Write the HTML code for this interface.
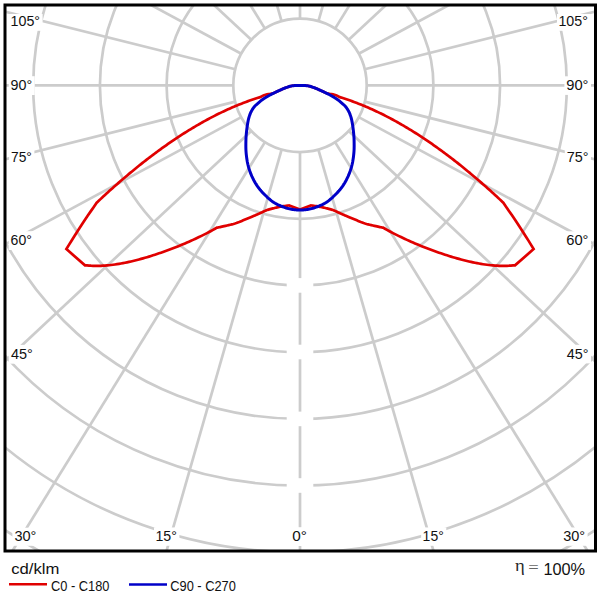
<!DOCTYPE html>
<html><head><meta charset="utf-8"><title>Polar LDC</title>
<style>html,body{margin:0;padding:0;background:#fff;width:600px;height:600px;overflow:hidden}svg{display:block}</style>
</head><body><svg width="600" height="600" viewBox="0 0 600 600"><defs><clipPath id="c"><rect x="5" y="5" width="590.5" height="546"/></clipPath></defs><g clip-path="url(#c)" fill="none" stroke="#cccccc" stroke-width="2.7"><circle cx="300" cy="85.4" r="66.7"/><circle cx="300" cy="85.4" r="133.4"/><circle cx="300" cy="85.4" r="200.1"/><circle cx="300" cy="85.4" r="266.8"/><circle cx="300" cy="85.4" r="333.5"/><circle cx="300" cy="85.4" r="400.2"/><circle cx="300" cy="85.4" r="466.9"/><circle cx="300" cy="85.4" r="533.6"/><line x1="300" y1="152.1" x2="300" y2="985.4"/><line x1="281.62" y1="149.52" x2="51.96" y2="950.54"/><line x1="318.38" y1="149.52" x2="548.04" y2="950.54"/><line x1="264.94" y1="142.15" x2="-173.01" y2="851.08"/><line x1="335.06" y1="142.15" x2="773.01" y2="851.08"/><line x1="251.27" y1="130.94" x2="-357.54" y2="699.92"/><line x1="348.73" y1="130.94" x2="957.54" y2="699.92"/><line x1="241.3" y1="117.07" x2="-492.05" y2="512.78"/><line x1="358.7" y1="117.07" x2="1092.05" y2="512.78"/><line x1="235.3" y1="101.6" x2="-573.04" y2="304.03"/><line x1="364.7" y1="101.6" x2="1173.04" y2="304.03"/><line x1="233.3" y1="85.4" x2="-600" y2="85.4"/><line x1="366.7" y1="85.4" x2="1200" y2="85.4"/><line x1="235.3" y1="69.2" x2="-573.04" y2="-133.23"/><line x1="364.7" y1="69.2" x2="1173.04" y2="-133.23"/><line x1="241.3" y1="53.73" x2="-492.05" y2="-341.98"/><line x1="358.7" y1="53.73" x2="1092.05" y2="-341.98"/><line x1="251.27" y1="39.86" x2="-357.54" y2="-529.12"/><line x1="348.73" y1="39.86" x2="957.54" y2="-529.12"/><line x1="264.94" y1="28.65" x2="-173.01" y2="-680.28"/><line x1="335.06" y1="28.65" x2="773.01" y2="-680.28"/><line x1="281.62" y1="21.28" x2="51.96" y2="-779.74"/><line x1="318.38" y1="21.28" x2="548.04" y2="-779.74"/><line x1="300" y1="18.7" x2="300" y2="-814.6"/></g><g fill="#fff"><rect x="286.7" y="278.1" width="26.6" height="14.6"/><rect x="286.7" y="344.7" width="26.6" height="14.6"/><rect x="286.7" y="411.6" width="26.6" height="14.6"/><rect x="286.7" y="478.2" width="26.6" height="14.6"/><rect x="9.1" y="14" width="33.5" height="16.8"/><rect x="557" y="14" width="33.5" height="16.8"/><rect x="8.7" y="76.2" width="26" height="18.8"/><rect x="564.4" y="76.3" width="26.6" height="18.6"/><rect x="9.1" y="147.9" width="25.3" height="18.8"/><rect x="564.8" y="147.8" width="26.2" height="18.95"/><rect x="8.7" y="231.2" width="25.7" height="18.8"/><rect x="564.4" y="231.3" width="26.6" height="18.6"/><rect x="8.7" y="344.9" width="26.7" height="18.8"/><rect x="564.4" y="344.8" width="26.6" height="18.6"/><rect x="12.4" y="527.7" width="26.5" height="18.1"/><rect x="154" y="527.45" width="25.4" height="18.35"/><rect x="290.4" y="527.2" width="19" height="18.8"/><rect x="421.15" y="527.45" width="25.15" height="18.35"/><rect x="561.15" y="527.45" width="26.45" height="18.35"/></g><path d="M300 85.6 L298.5 85.57 L297 85.55 L295.5 85.56 L294 85.64 L292.5 85.78 L291 86.05 L289.5 86.44 L288 86.93 L286.5 87.46 L285 88.03 L283.5 88.62 L282 89.25 L280.5 89.91 L279 90.61 L277.5 91.32 L276 92.03 L274.5 92.73 L273 93.25 L271.5 93.61 L270 93.89 L268.5 94.13 L267 94.38 L265.5 94.71 L264 95.17 L262.5 95.87 L261 96.88 L259.5 97.34 L258 97.8 L256.5 98.28 L255 98.77 L253.5 99.27 L252 99.78 L250.5 100.3 L249 100.83 L247.5 101.37 L246 101.92 L244.5 102.48 L243 103.05 L241.5 103.64 L240 104.23 L238.5 104.83 L237 105.44 L235.5 106.07 L234 106.7 L232.5 107.34 L231 108 L229.5 108.66 L228 109.33 L226.5 110.02 L225 110.71 L223.5 111.41 L222 112.12 L220.5 112.85 L219 113.58 L217.5 114.32 L216 115.07 L214.5 115.83 L213 116.6 L211.5 117.38 L210 118.17 L208.5 118.97 L207 119.78 L205.5 120.6 L204 121.42 L202.5 122.26 L201 123.11 L199.5 123.96 L198 124.82 L196.5 125.7 L195 126.58 L193.5 127.47 L192 128.37 L190.5 129.28 L189 130.2 L187.5 131.13 L186 132.06 L184.5 133.01 L183 133.96 L181.5 134.92 L180 135.89 L178.5 136.87 L177 137.86 L175.5 138.86 L174 139.87 L172.5 140.88 L171 141.9 L169.5 142.94 L168 143.98 L166.5 145.03 L165 146.08 L163.5 147.15 L162 148.22 L160.5 149.31 L159 150.4 L157.5 151.49 L156 152.6 L154.5 153.72 L153 154.84 L151.5 155.97 L150 157.11 L148.5 158.26 L147 159.42 L145.5 160.58 L144 161.75 L142.5 162.93 L141 164.12 L139.5 165.32 L138 166.52 L136.5 167.74 L135 168.96 L133.5 170.18 L132 171.42 L130.5 172.66 L129 173.91 L127.5 175.17 L126 176.44 L124.5 177.71 L123 178.99 L121.5 180.28 L120 181.58 L118.5 182.89 L117 184.2 L115.5 185.52 L114 186.84 L112.5 188.18 L111 189.52 L109.5 190.87 L108 192.23 L106.5 193.59 L105 194.96 L103.5 196.34 L102 197.73 L100.5 199.12 L99 200.52 L97.5 201.93 L96.7 202.69 L93.79 206.92 L90.87 211.14 L87.99 215.35 L85.14 219.57 L82.34 223.79 L79.58 228.01 L76.86 232.23 L74.17 236.45 L71.53 240.66 L68.93 244.88 L66.37 249.1 L85 265.3 L87 265.4 L89 265.58 L91 265.72 L93 265.81 L95 265.86 L97 265.88 L99 265.86 L101 265.8 L103 265.71 L105 265.58 L107 265.43 L109 265.24 L111 265.03 L113 264.78 L115 264.51 L117 264.21 L119 263.89 L121 263.54 L123 263.17 L125 262.78 L127 262.36 L129 261.93 L131 261.47 L133 261 L135 260.51 L137 260 L139 259.47 L141 258.92 L143 258.36 L145 257.78 L147 257.19 L149 256.59 L151 255.97 L153 255.33 L155 254.68 L157 254.02 L159 253.34 L161 252.66 L163 251.96 L165 251.24 L167 250.51 L169 249.78 L171 249.02 L173 248.26 L175 247.48 L177 246.69 L179 245.89 L181 245.07 L183 244.24 L185 243.4 L187 242.54 L189 241.67 L191 240.78 L193 239.88 L195 238.96 L197 238.03 L199 237.08 L201 236.11 L203 235.12 L205 234.12 L207 233.1 L209 232.05 L211 230.99 L213 229.9 L215 228.79 L217 227.66 L217.42 227.61 L217.94 227.5 L218.55 227.38 L219.25 227.23 L220.05 227.06 L220.94 226.87 L221.92 226.65 L223 226.4 L224.22 226.12 L225.61 225.82 L227.12 225.49 L228.71 225.13 L230.33 224.75 L231.95 224.35 L233.52 223.94 L235 223.5 L236.41 223.04 L237.8 222.53 L239.17 222.01 L240.52 221.46 L241.85 220.91 L243.15 220.36 L244.44 219.82 L245.7 219.3 L246.96 218.79 L248.22 218.26 L249.48 217.74 L250.71 217.23 L251.89 216.72 L253.01 216.25 L254.05 215.8 L255 215.4 L255.82 215.05 L256.52 214.75 L257.12 214.49 L257.68 214.24 L258.2 214.01 L258.75 213.77 L259.33 213.5 L260 213.2 L260.79 212.84 L261.67 212.44 L262.61 212 L263.56 211.56 L264.47 211.14 L265.3 210.76 L265.99 210.44 L266.5 210.2 L267 210.06 L267.66 209.87 L268.44 209.65 L269.31 209.4 L270.24 209.14 L271.19 208.88 L272.12 208.63 L273 208.4 L273.84 208.19 L274.67 207.98 L275.5 207.78 L276.34 207.58 L277.21 207.38 L278.1 207.18 L279.03 206.99 L280 206.8 L281.09 206.61 L282.32 206.4 L283.62 206.2 L284.94 206 L286.2 205.81 L287.34 205.65 L288.29 205.51 L289 205.4 L300 209.4 L311 205.4 L311.71 205.51 L312.66 205.65 L313.8 205.81 L315.06 206 L316.38 206.2 L317.68 206.4 L318.91 206.61 L320 206.8 L320.97 206.99 L321.9 207.18 L322.79 207.38 L323.66 207.58 L324.5 207.78 L325.33 207.98 L326.16 208.19 L327 208.4 L327.88 208.63 L328.81 208.88 L329.76 209.14 L330.69 209.4 L331.56 209.65 L332.34 209.87 L333 210.06 L333.5 210.2 L334.01 210.44 L334.7 210.76 L335.53 211.14 L336.44 211.56 L337.39 212 L338.33 212.44 L339.21 212.84 L340 213.2 L340.67 213.5 L341.25 213.77 L341.8 214.01 L342.32 214.24 L342.88 214.49 L343.48 214.75 L344.18 215.05 L345 215.4 L345.95 215.8 L346.99 216.25 L348.11 216.72 L349.29 217.23 L350.52 217.74 L351.78 218.26 L353.04 218.79 L354.3 219.3 L355.56 219.82 L356.85 220.36 L358.15 220.91 L359.48 221.46 L360.83 222.01 L362.2 222.53 L363.59 223.04 L365 223.5 L366.48 223.94 L368.05 224.35 L369.67 224.75 L371.29 225.13 L372.88 225.49 L374.39 225.82 L375.78 226.12 L377 226.4 L378.08 226.65 L379.06 226.87 L379.95 227.06 L380.75 227.23 L381.45 227.38 L382.06 227.5 L382.58 227.61 L383 227.66 L385 228.79 L387 229.9 L389 230.99 L391 232.05 L393 233.1 L395 234.12 L397 235.12 L399 236.11 L401 237.08 L403 238.03 L405 238.96 L407 239.88 L409 240.78 L411 241.67 L413 242.54 L415 243.4 L417 244.24 L419 245.07 L421 245.89 L423 246.69 L425 247.48 L427 248.26 L429 249.02 L431 249.78 L433 250.51 L435 251.24 L437 251.96 L439 252.66 L441 253.34 L443 254.02 L445 254.68 L447 255.33 L449 255.97 L451 256.59 L453 257.19 L455 257.78 L457 258.36 L459 258.92 L461 259.47 L463 260 L465 260.51 L467 261 L469 261.47 L471 261.93 L473 262.36 L475 262.78 L477 263.17 L479 263.54 L481 263.89 L483 264.21 L485 264.51 L487 264.78 L489 265.03 L491 265.24 L493 265.43 L495 265.58 L497 265.71 L499 265.8 L501 265.86 L503 265.88 L505 265.86 L507 265.81 L509 265.72 L511 265.58 L513 265.4 L515 265.3 L533.63 249.1 L531.07 244.88 L528.47 240.66 L525.83 236.45 L523.14 232.23 L520.42 228.01 L517.66 223.79 L514.86 219.57 L512.01 215.35 L509.13 211.14 L506.21 206.92 L503.3 202.69 L502.5 201.93 L501 200.52 L499.5 199.12 L498 197.73 L496.5 196.34 L495 194.96 L493.5 193.59 L492 192.23 L490.5 190.87 L489 189.52 L487.5 188.18 L486 186.84 L484.5 185.52 L483 184.2 L481.5 182.89 L480 181.58 L478.5 180.28 L477 178.99 L475.5 177.71 L474 176.44 L472.5 175.17 L471 173.91 L469.5 172.66 L468 171.42 L466.5 170.18 L465 168.96 L463.5 167.74 L462 166.52 L460.5 165.32 L459 164.12 L457.5 162.93 L456 161.75 L454.5 160.58 L453 159.42 L451.5 158.26 L450 157.11 L448.5 155.97 L447 154.84 L445.5 153.72 L444 152.6 L442.5 151.49 L441 150.4 L439.5 149.31 L438 148.22 L436.5 147.15 L435 146.08 L433.5 145.03 L432 143.98 L430.5 142.94 L429 141.9 L427.5 140.88 L426 139.87 L424.5 138.86 L423 137.86 L421.5 136.87 L420 135.89 L418.5 134.92 L417 133.96 L415.5 133.01 L414 132.06 L412.5 131.13 L411 130.2 L409.5 129.28 L408 128.37 L406.5 127.47 L405 126.58 L403.5 125.7 L402 124.82 L400.5 123.96 L399 123.11 L397.5 122.26 L396 121.42 L394.5 120.6 L393 119.78 L391.5 118.97 L390 118.17 L388.5 117.38 L387 116.6 L385.5 115.83 L384 115.07 L382.5 114.32 L381 113.58 L379.5 112.85 L378 112.12 L376.5 111.41 L375 110.71 L373.5 110.02 L372 109.33 L370.5 108.66 L369 108 L367.5 107.34 L366 106.7 L364.5 106.07 L363 105.44 L361.5 104.83 L360 104.23 L358.5 103.64 L357 103.05 L355.5 102.48 L354 101.92 L352.5 101.37 L351 100.83 L349.5 100.3 L348 99.78 L346.5 99.27 L345 98.77 L343.5 98.28 L342 97.8 L340.5 97.34 L339 96.88 L337.5 95.87 L336 95.17 L334.5 94.71 L333 94.38 L331.5 94.13 L330 93.89 L328.5 93.61 L327 93.25 L325.5 92.73 L324 92.03 L322.5 91.32 L321 90.61 L319.5 89.91 L318 89.25 L316.5 88.62 L315 88.03 L313.5 87.46 L312 86.93 L310.5 86.44 L309 86.05 L307.5 85.78 L306 85.64 L304.5 85.56 L303 85.55 L301.5 85.57 L300 85.6 Z" fill="none" stroke="#e00000" stroke-width="2.7" stroke-linejoin="miter" stroke-miterlimit="10"/><path d="M300 85.6 L299.31 85.6 L298.6 85.58 L297.89 85.57 L297.19 85.56 L296.49 85.55 L295.8 85.55 L295.14 85.57 L294.5 85.6 L293.9 85.64 L293.36 85.69 L292.84 85.74 L292.32 85.8 L291.8 85.88 L291.26 85.99 L290.66 86.13 L290 86.3 L289.27 86.51 L288.48 86.77 L287.64 87.05 L286.78 87.36 L285.9 87.68 L285.02 88.02 L284.15 88.36 L283.3 88.7 L282.47 89.04 L281.65 89.4 L280.82 89.77 L280 90.14 L279.18 90.53 L278.35 90.91 L277.53 91.31 L276.7 91.7 L275.87 92.09 L275.03 92.49 L274.19 92.88 L273.36 93.29 L272.52 93.7 L271.68 94.12 L270.84 94.55 L270 95 L269.15 95.47 L268.28 95.96 L267.4 96.46 L266.53 96.97 L265.67 97.48 L264.84 98 L264.05 98.5 L263.3 99 L262.61 99.48 L261.95 99.96 L261.34 100.43 L260.75 100.89 L260.18 101.36 L259.62 101.83 L259.06 102.31 L258.5 102.8 L257.93 103.29 L257.36 103.78 L256.8 104.27 L256.25 104.77 L255.71 105.28 L255.19 105.8 L254.68 106.34 L254.2 106.9 L253.74 107.48 L253.3 108.08 L252.88 108.7 L252.47 109.33 L252.08 109.98 L251.7 110.64 L251.34 111.31 L251 112 L250.67 112.7 L250.36 113.41 L250.07 114.14 L249.79 114.88 L249.52 115.64 L249.27 116.41 L249.03 117.2 L248.8 118 L248.58 118.82 L248.38 119.66 L248.2 120.51 L248.03 121.38 L247.86 122.26 L247.7 123.16 L247.55 124.07 L247.4 125 L247.25 125.95 L247.11 126.93 L246.97 127.93 L246.84 128.94 L246.72 129.96 L246.61 130.98 L246.5 131.99 L246.4 133 L246.31 133.98 L246.22 134.92 L246.15 135.85 L246.07 136.78 L246.01 137.74 L245.96 138.75 L245.93 139.83 L245.9 141 L245.88 142.26 L245.86 143.61 L245.85 145.01 L245.85 146.47 L245.87 147.96 L245.91 149.47 L245.99 150.99 L246.1 152.5 L246.24 154.02 L246.41 155.58 L246.6 157.17 L246.82 158.76 L247.07 160.36 L247.34 161.94 L247.66 163.49 L248 165 L248.38 166.48 L248.79 167.94 L249.24 169.38 L249.72 170.81 L250.23 172.21 L250.76 173.59 L251.32 174.96 L251.9 176.3 L252.51 177.62 L253.14 178.92 L253.79 180.2 L254.48 181.46 L255.19 182.7 L255.93 183.92 L256.7 185.12 L257.5 186.3 L258.34 187.46 L259.21 188.59 L260.11 189.71 L261.04 190.81 L262 191.88 L262.98 192.94 L263.98 193.98 L265 195 L266.04 196.01 L267.1 197.03 L268.19 198.02 L269.29 199 L270.42 199.95 L271.56 200.85 L272.73 201.7 L273.9 202.5 L275.11 203.24 L276.36 203.93 L277.63 204.58 L278.92 205.18 L280.2 205.74 L281.47 206.27 L282.71 206.75 L283.9 207.2 L285.05 207.61 L286.17 207.96 L287.28 208.28 L288.36 208.56 L289.42 208.8 L290.46 209.02 L291.49 209.22 L292.5 209.4 L293.49 209.56 L294.45 209.69 L295.39 209.79 L296.32 209.88 L297.24 209.93 L298.15 209.97 L299.07 209.99 L300 210 L300.93 209.99 L301.85 209.97 L302.76 209.93 L303.68 209.88 L304.61 209.79 L305.55 209.69 L306.51 209.56 L307.5 209.4 L308.51 209.22 L309.54 209.02 L310.58 208.8 L311.64 208.56 L312.72 208.28 L313.83 207.96 L314.95 207.61 L316.1 207.2 L317.29 206.75 L318.53 206.27 L319.8 205.74 L321.08 205.18 L322.37 204.58 L323.64 203.93 L324.89 203.24 L326.1 202.5 L327.27 201.7 L328.44 200.85 L329.58 199.95 L330.71 199 L331.81 198.02 L332.9 197.03 L333.96 196.01 L335 195 L336.02 193.98 L337.02 192.94 L338 191.88 L338.96 190.81 L339.89 189.71 L340.79 188.59 L341.66 187.46 L342.5 186.3 L343.3 185.12 L344.07 183.92 L344.81 182.7 L345.52 181.46 L346.21 180.2 L346.86 178.92 L347.49 177.62 L348.1 176.3 L348.68 174.96 L349.24 173.59 L349.77 172.21 L350.28 170.81 L350.76 169.38 L351.21 167.94 L351.62 166.48 L352 165 L352.34 163.49 L352.66 161.94 L352.93 160.36 L353.18 158.76 L353.4 157.17 L353.59 155.58 L353.76 154.02 L353.9 152.5 L354.01 150.99 L354.09 149.47 L354.13 147.96 L354.15 146.47 L354.15 145.01 L354.14 143.61 L354.12 142.26 L354.1 141 L354.07 139.83 L354.04 138.75 L353.99 137.74 L353.93 136.78 L353.85 135.85 L353.78 134.92 L353.69 133.98 L353.6 133 L353.5 131.99 L353.39 130.98 L353.28 129.96 L353.16 128.94 L353.03 127.93 L352.89 126.93 L352.75 125.95 L352.6 125 L352.45 124.07 L352.3 123.16 L352.14 122.26 L351.98 121.38 L351.8 120.51 L351.62 119.66 L351.42 118.82 L351.2 118 L350.97 117.2 L350.73 116.41 L350.48 115.64 L350.21 114.88 L349.93 114.14 L349.64 113.41 L349.33 112.7 L349 112 L348.66 111.31 L348.3 110.64 L347.92 109.98 L347.53 109.33 L347.12 108.7 L346.7 108.08 L346.26 107.48 L345.8 106.9 L345.32 106.34 L344.81 105.8 L344.29 105.28 L343.75 104.77 L343.2 104.27 L342.64 103.78 L342.07 103.29 L341.5 102.8 L340.94 102.31 L340.38 101.83 L339.82 101.36 L339.25 100.89 L338.66 100.43 L338.05 99.96 L337.39 99.48 L336.7 99 L335.95 98.5 L335.16 98 L334.33 97.48 L333.47 96.97 L332.6 96.46 L331.72 95.96 L330.85 95.47 L330 95 L329.16 94.55 L328.32 94.12 L327.48 93.7 L326.64 93.29 L325.81 92.88 L324.97 92.49 L324.13 92.09 L323.3 91.7 L322.47 91.31 L321.65 90.91 L320.82 90.53 L320 90.14 L319.18 89.77 L318.35 89.4 L317.53 89.04 L316.7 88.7 L315.85 88.36 L314.98 88.02 L314.1 87.68 L313.22 87.36 L312.36 87.05 L311.52 86.77 L310.73 86.51 L310 86.3 L309.34 86.13 L308.74 85.99 L308.2 85.88 L307.68 85.8 L307.16 85.74 L306.64 85.69 L306.1 85.64 L305.5 85.6 L304.86 85.57 L304.2 85.55 L303.51 85.55 L302.81 85.56 L302.11 85.57 L301.4 85.58 L300.69 85.6 Z" fill="none" stroke="#0000c8" stroke-width="3" stroke-linejoin="round"/><rect x="5" y="5" width="590.5" height="546" fill="none" stroke="#000" stroke-width="3"/><g><text x="10.56" y="26" font-family="'Liberation Sans', sans-serif" font-size="13.8" fill="#111" textLength="29.47" lengthAdjust="spacingAndGlyphs">105°</text><text x="558.46" y="26" font-family="'Liberation Sans', sans-serif" font-size="13.8" fill="#111" textLength="29.47" lengthAdjust="spacingAndGlyphs">105°</text><text x="10.59" y="90.2" font-family="'Liberation Sans', sans-serif" font-size="13.8" fill="#111" textLength="21.6" lengthAdjust="spacingAndGlyphs">90°</text><text x="566.26" y="90.1" font-family="'Liberation Sans', sans-serif" font-size="13.8" fill="#111" textLength="22.25" lengthAdjust="spacingAndGlyphs">90°</text><text x="11.01" y="161.9" font-family="'Liberation Sans', sans-serif" font-size="13.8" fill="#111" textLength="20.85" lengthAdjust="spacingAndGlyphs">75°</text><text x="566.68" y="161.95" font-family="'Liberation Sans', sans-serif" font-size="13.8" fill="#111" textLength="21.82" lengthAdjust="spacingAndGlyphs">75°</text><text x="10.6" y="245.2" font-family="'Liberation Sans', sans-serif" font-size="13.8" fill="#111" textLength="21.28" lengthAdjust="spacingAndGlyphs">60°</text><text x="566.26" y="245.1" font-family="'Liberation Sans', sans-serif" font-size="13.8" fill="#111" textLength="22.25" lengthAdjust="spacingAndGlyphs">60°</text><text x="11.01" y="358.9" font-family="'Liberation Sans', sans-serif" font-size="13.8" fill="#111" textLength="21.89" lengthAdjust="spacingAndGlyphs">45°</text><text x="566.71" y="358.6" font-family="'Liberation Sans', sans-serif" font-size="13.8" fill="#111" textLength="21.79" lengthAdjust="spacingAndGlyphs">45°</text><text x="14.42" y="541" font-family="'Liberation Sans', sans-serif" font-size="13.8" fill="#111" textLength="21.99" lengthAdjust="spacingAndGlyphs">30°</text><text x="155.47" y="541" font-family="'Liberation Sans', sans-serif" font-size="13.8" fill="#111" textLength="21.42" lengthAdjust="spacingAndGlyphs">15°</text><text x="292.39" y="541.2" font-family="'Liberation Sans', sans-serif" font-size="13.8" fill="#111" textLength="14.62" lengthAdjust="spacingAndGlyphs">0°</text><text x="422.63" y="541" font-family="'Liberation Sans', sans-serif" font-size="13.8" fill="#111" textLength="21.14" lengthAdjust="spacingAndGlyphs">15°</text><text x="563.17" y="541" font-family="'Liberation Sans', sans-serif" font-size="13.8" fill="#111" textLength="21.93" lengthAdjust="spacingAndGlyphs">30°</text></g><g><text x="11.23" y="574" font-family="'Liberation Sans', sans-serif" font-size="15.2" fill="#111" textLength="48.22" lengthAdjust="spacingAndGlyphs">cd/klm</text><line x1="9" y1="584.3" x2="47" y2="584.3" stroke="#e00000" stroke-width="2.6"/><text x="51.06" y="591" font-family="'Liberation Sans', sans-serif" font-size="14" fill="#111" textLength="58.42" lengthAdjust="spacingAndGlyphs">C0 - C180</text><line x1="129" y1="584.5" x2="167" y2="584.5" stroke="#0000c8" stroke-width="2.6"/><text x="170.26" y="591" font-family="'Liberation Sans', sans-serif" font-size="14" fill="#111" textLength="65.6" lengthAdjust="spacingAndGlyphs">C90 - C270</text><text x="515.03" y="570.9" font-family="'Liberation Serif', serif" font-size="15.8" fill="#2a2a2a" textLength="9.76" lengthAdjust="spacingAndGlyphs">η</text><text x="528.37" y="572.8" font-family="'Liberation Serif', serif" font-size="16" fill="#666" textLength="10.44" lengthAdjust="spacingAndGlyphs">=</text><text x="543.4" y="574.6" font-family="'Liberation Sans', sans-serif" font-size="16.9" fill="#111" textLength="41.72" lengthAdjust="spacingAndGlyphs">100%</text></g></svg></body></html>
